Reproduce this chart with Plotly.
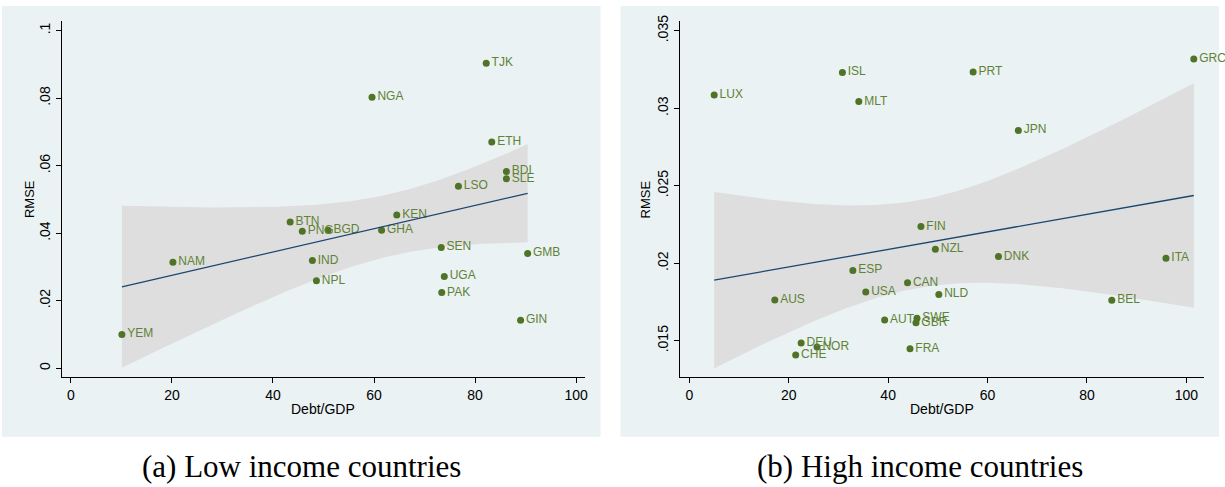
import numpy as np
import plotly.graph_objects as go

# ---------------- data ----------------
low_codes = ["TJK", "NGA", "ETH", "BDI", "SLE", "LSO", "KEN", "GHA", "BTN", "PNG",
             "BGD", "SEN", "GMB", "IND", "NPL", "UGA", "PAK", "GIN", "NAM", "YEM"]
low_debt = [82.2, 59.6, 83.3, 86.2, 86.2, 76.7, 64.5, 61.5, 43.4, 45.8,
            50.9, 73.3, 90.4, 47.8, 48.6, 73.9, 73.4, 89.0, 20.2, 10.1]
low_rmse = [0.0903, 0.0803, 0.0670, 0.0583, 0.0561, 0.0539, 0.0454, 0.0409, 0.0433, 0.0406,
            0.0409, 0.0358, 0.0340, 0.0319, 0.0259, 0.0272, 0.0224, 0.0142, 0.0314, 0.0100]

high_codes = ["LUX", "ISL", "MLT", "PRT", "GRC", "JPN", "FIN", "NZL", "DNK", "ITA",
              "NLD", "BEL", "SWE", "GBR", "FRA", "CAN", "ESP", "USA", "AUS", "AUT",
              "DEU", "NOR", "CHE"]
high_debt = [5.0, 30.8, 34.1, 57.1, 101.5, 66.2, 46.6, 49.5, 62.2, 95.9,
             50.2, 85.0, 45.8, 45.6, 44.4, 43.9, 32.9, 35.5, 17.2, 39.3,
             22.5, 25.7, 21.4]
high_rmse = [0.03086, 0.03231, 0.03043, 0.03234, 0.03317, 0.02857, 0.02237, 0.02090, 0.02043, 0.02033,
             0.01799, 0.01761, 0.01645, 0.01617, 0.01449, 0.01874, 0.01954, 0.01814, 0.01763, 0.01634,
             0.01485, 0.01460, 0.01409]

low_yticks = [0, 0.02, 0.04, 0.06, 0.08, 0.1]
low_yticktext = ["0", ".02", ".04", ".06", ".08", ".1"]
high_yticks = [0.015, 0.02, 0.025, 0.03, 0.035]
high_yticktext = [".015", ".02", ".025", ".03", ".035"]
xticks = [0, 20, 40, 60, 80, 100]

captions = ["(a) Low income countries", "(b) High income countries"]
t_crit = {18: 2.1009, 21: 2.0796}  # 95% t critical values

# ---------------- styling ----------------
W, H = 1225, 487
PANEL_BG = "#EAF2F3"
MARKER = "#4F7327"
LABEL = "#5F8236"
BAND = "#DEDEDE"
LINE = "#1A476F"


def px_x(p):
    return p / W


def px_y(p):
    return 1 - p / H


def lfitci(x, y):
    x = np.asarray(x, float)
    y = np.asarray(y, float)
    n = len(x)
    b, a = np.polyfit(x, y, 1)
    resid = y - (a + b * x)
    s = np.sqrt(np.sum(resid ** 2) / (n - 2))
    xbar = x.mean()
    sxx = np.sum((x - xbar) ** 2)
    xs = np.linspace(x.min(), x.max(), 120)
    yh = a + b * xs
    se = s * np.sqrt(1.0 / n + (xs - xbar) ** 2 / sxx)
    t = t_crit[n - 2]
    return xs, yh, yh - t * se, yh + t * se


fig = go.Figure()

panels = [
    dict(codes=low_codes, x=low_debt, y=low_rmse, xa="x", ya="y",
         dom_x=(61.7, 586.7), yr=(-0.0027, 0.1029), xr=(-1.84, 101.8),
         yt=low_yticks, ytt=low_yticktext, bg=(2, 602), ytitle_x=29),
    dict(codes=high_codes, x=high_debt, y=high_rmse, xa="x2", ya="y2",
         dom_x=(681.7, 1206.7), yr=(0.01264, 0.03564), xr=(-1.87, 103.5),
         yt=high_yticks, ytt=high_yticktext, bg=(622, 1222), ytitle_x=647),
]

shapes = []
annotations = []
for i, p in enumerate(panels):
    xs, yh, lo, hi = lfitci(p["x"], p["y"])
    fig.add_trace(go.Scatter(
        x=np.concatenate([xs, xs[::-1]]), y=np.concatenate([hi, lo[::-1]]),
        fill="toself", fillcolor=BAND, line=dict(width=0), mode="lines",
        hoverinfo="skip", showlegend=False, xaxis=p["xa"], yaxis=p["ya"]))
    fig.add_trace(go.Scatter(
        x=p["x"], y=p["y"], text=p["codes"], mode="markers+text",
        textposition="middle right", cliponaxis=False,
        marker=dict(color=MARKER, size=7),
        textfont=dict(family="Liberation Sans, Arial, sans-serif", size=12, color=LABEL),
        showlegend=False, xaxis=p["xa"], yaxis=p["ya"]))
    fig.add_trace(go.Scatter(
        x=xs, y=yh, mode="lines", line=dict(color=LINE, width=1.3),
        showlegend=False, hoverinfo="skip", xaxis=p["xa"], yaxis=p["ya"]))

    # panel background
    shapes.append(dict(type="rect", xref="paper", yref="paper", layer="below",
                       x0=px_x(p["bg"][0]), x1=px_x(p["bg"][1]),
                       y0=px_y(436), y1=px_y(0),
                       fillcolor=PANEL_BG, line=dict(width=0)))
    # axis titles
    cx = (p["dom_x"][0] + p["dom_x"][1]) / 2
    annotations.append(dict(text="Debt/GDP", xref="paper", yref="paper",
                            x=px_x(cx), y=px_y(408), showarrow=False,
                            xanchor="center", yanchor="middle",
                            font=dict(family="Liberation Sans, Arial, sans-serif", size=14, color="black")))
    annotations.append(dict(text="RMSE", xref="paper", yref="paper", textangle=-90,
                            x=px_x(p["ytitle_x"]), y=px_y(195.5), showarrow=False,
                            xanchor="center", yanchor="middle",
                            font=dict(family="Liberation Sans, Arial, sans-serif", size=13, color="black")))
    # caption
    annotations.append(dict(text=captions[i], xref="paper", yref="paper",
                            x=px_x((p["bg"][0] + p["bg"][1]) / 2), y=px_y(466), showarrow=False,
                            xanchor="center", yanchor="middle",
                            font=dict(family="Liberation Serif, Times New Roman, serif", size=31, color="black")))

    axis_common = dict(showline=True, linecolor="black", linewidth=1,
                       ticks="outside", ticklen=5, tickcolor="black", tickwidth=1,
                       tickfont=dict(family="Liberation Sans, Arial, sans-serif", size=14, color="black"),
                       zeroline=False, fixedrange=True)
    xkey = "xaxis" if p["xa"] == "x" else "xaxis2"
    ykey = "yaxis" if p["ya"] == "y" else "yaxis2"
    fig.update_layout(**{
        xkey: dict(domain=[px_x(p["dom_x"][0]), px_x(p["dom_x"][1])], range=list(p["xr"]),
                   anchor=p["ya"], tickvals=xticks, showgrid=False, **axis_common),
        ykey: dict(domain=[px_y(376), px_y(15)], range=list(p["yr"]), anchor=p["xa"],
                   tickvals=p["yt"], ticktext=p["ytt"], tickangle=-90,
                   showgrid=True, gridcolor=PANEL_BG, gridwidth=1, **axis_common),
    })

fig.update_layout(width=W, height=H, margin=dict(l=0, r=0, t=0, b=0),
                  paper_bgcolor="white", plot_bgcolor="white",
                  shapes=shapes, annotations=annotations, showlegend=False)

fig.write_html("out.html", config={"displayModeBar": False},
               post_script="document.body.style.margin='0';document.body.style.overflow='hidden';")
